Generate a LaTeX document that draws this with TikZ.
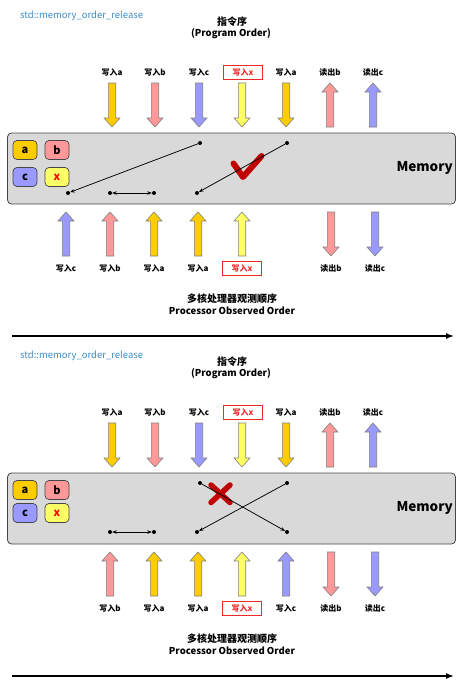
\documentclass[tikz,border=0pt]{standalone}
\usepackage{fontspec}
\setmainfont{Noto Sans CJK SC}
\usetikzlibrary{arrows.meta}
\definecolor{cA}{RGB}{255,204,0}
\definecolor{cB}{RGB}{255,153,153}
\definecolor{cC}{RGB}{153,153,255}
\definecolor{cX}{RGB}{255,255,102}
\definecolor{memfill}{RGB}{217,217,217}
\definecolor{edgegray}{RGB}{70,70,70}
\definecolor{arrgray}{RGB}{128,128,128}
\definecolor{stdblue}{RGB}{60,140,200}
\definecolor{markred}{RGB}{192,0,0}
\definecolor{boxred}{RGB}{240,40,40}
\tikzset{
  fatarrow/.style={draw=arrgray, line width=0.6pt},
  lbl/.style={font=\bfseries\fontsize{8}{8}\selectfont, inner sep=0pt},
  redlbl/.style={lbl, draw=boxred, text=boxred, minimum width=39pt, minimum height=14pt, line width=0.6pt},
  membox/.style={draw=edgegray, fill=memfill, rounded corners=4pt, line width=0.8pt, minimum width=448pt, minimum height=71pt, inner sep=0pt},
  varbox/.style={draw=edgegray, rounded corners=4pt, line width=0.7pt, minimum width=24pt, minimum height=19pt, inner sep=0pt, font=\bfseries\fontsize{11}{11}\selectfont},
  dot/.style={circle, fill=black, inner sep=0pt, minimum size=4pt},
  memarrow/.style={line width=0.75pt, -{Stealth[length=4.5pt,width=3.5pt]}},
  dblarrow/.style={line width=0.75pt, {Stealth[length=4.5pt,width=3.5pt]}-{Stealth[length=4.5pt,width=3.5pt]}},
  titletxt/.style={font=\bfseries\fontsize{10}{10}\selectfont, inner sep=0pt},
  subtxt/.style={font=\bfseries\fontsize{9.5}{10}\selectfont, inner sep=0pt},
  stdtxt/.style={font=\fontsize{9.5}{10}\selectfont, text=stdblue, inner sep=0pt, anchor=west},
  timeline/.style={line width=1.4pt, -{Latex[length=8pt,width=6pt]}},
  markstroke/.style={draw=markred, line width=6pt, line cap=round, line join=round}
}
% down arrow: colour, x, ytop (length 44)
\newcommand\fdown[3]{\draw[fatarrow, fill=#1] (#2-3.7,#3) -- (#2+3.7,#3) -- (#2+3.7,#3+35) -- (#2+8,#3+35) -- (#2,#3+44) -- (#2-8,#3+35) -- (#2-3.7,#3+35) -- cycle;}
% up arrow: colour, x, ytip (length 44)
\newcommand\fup[3]{\draw[fatarrow, fill=#1] (#2-3.7,#3+44) -- (#2+3.7,#3+44) -- (#2+3.7,#3+9) -- (#2+8,#3+9) -- (#2,#3) -- (#2-8,#3+9) -- (#2-3.7,#3+9) -- cycle;}
% common top part of a panel; #1 = suffix
\newcommand\panelcommon[1]{%
  \node[stdtxt] (std#1) at (20,16) {std::memory\_order\_release};
  \node[titletxt] (po#1) at (232,22) {指令序};
  \node[subtxt] (pos#1) at (231,34) {(Program Order)};
  \node[lbl] (t1#1) at (112,72) {写入a};
  \node[lbl] (t2#1) at (155,72) {写入b};
  \node[lbl] (t3#1) at (199,72) {写入c};
  \node[redlbl] (t4#1) at (243,72.5) {写入x};
  \node[lbl] (t5#1) at (286,72) {写入a};
  \node[lbl] (t6#1) at (330,72) {读出b};
  \node[lbl] (t7#1) at (373,72) {读出c};
  \fdown{cA}{112}{83}
  \fdown{cB}{155}{83}
  \fdown{cC}{199}{83}
  \fdown{cX}{242}{83}
  \fdown{cA}{286}{83}
  \fup{cB}{330}{83}
  \fup{cC}{373}{83}
  \node[membox] (mem#1) at (231.5,168.5) {};
  \node[font=\bfseries\fontsize{13.5}{14}\selectfont, inner sep=0pt, anchor=east] (memt#1) at (453,168) {Memory};
  \node[titletxt] (obs#1) at (232,299) {多核处理器观测顺序};
  \node[subtxt] (obss#1) at (232,311) {Processor Observed Order};
  \coordinate (tl#1) at (12,336);
  \coordinate (tr#1) at (454,336);
  \draw[timeline] (tl#1) -- (tr#1);
}
\begin{document}
\begin{tikzpicture}[x=1pt,y=-1pt]
\useasboundingbox (0,0) rectangle (464,685);
% ---------------- panel 1 ----------------
\panelcommon{A}
\node[varbox, fill=cA] (vaA) at (25,150) {a};
\node[varbox, fill=cB] (vbA) at (57,150) {b};
\node[varbox, fill=cC] (vcA) at (25,177) {c};
\node[varbox, fill=cX, text=red] (vxA) at (57,177) {x};
\draw[markstroke] (233.5,163.5) -- (243,177) -- (261.5,156);
\node[dot] (d1A) at (200,143) {};
\node[dot] (d2A) at (68,193) {};
\node[dot] (d3A) at (110,193) {};
\node[dot] (d4A) at (154,193) {};
\node[dot] (d5A) at (197,193) {};
\node[dot] (d6A) at (287,143) {};
\draw[memarrow] (d1A) -- (d2A);
\draw[memarrow] (d6A) -- (d5A);
\draw[dblarrow] (d3A) -- (d4A);
\fup{cC}{66}{212}
\fup{cB}{110}{212}
\fup{cA}{154}{212}
\fup{cA}{198}{212}
\fup{cX}{242}{212}
\fdown{cB}{331}{212}
\fdown{cC}{375}{212}
\node[lbl] (b1A) at (66,268) {写入c};
\node[lbl] (b2A) at (110,268) {写入b};
\node[lbl] (b3A) at (154,268) {写入a};
\node[lbl] (b4A) at (198,268) {写入a};
\node[redlbl] (b5A) at (242,268.5) {写入x};
\node[lbl] (b6A) at (331,268) {读出b};
\node[lbl] (b7A) at (375,268) {读出c};
% ---------------- panel 2 ----------------
\begin{scope}[shift={(0,340)}]
\panelcommon{B}
\node[varbox, fill=cA] (vaB) at (25,150) {a};
\node[varbox, fill=cB] (vbB) at (57,150) {b};
\node[varbox, fill=cC] (vcB) at (25,173) {c};
\node[varbox, fill=cX, text=red] (vxB) at (57,173) {x};
\draw[markstroke, line width=5.5pt] (211,145) -- (230,162.5);
\draw[markstroke, line width=5.5pt] (230,145) -- (211,162.5);
\node[dot] (d1B) at (200,143) {};
\node[dot] (d2B) at (287,143) {};
\node[dot] (d3B) at (110,192) {};
\node[dot] (d4B) at (154,192) {};
\node[dot] (d5B) at (197,192) {};
\node[dot] (d6B) at (287,192) {};
\draw[memarrow] (d1B) -- (d6B);
\draw[memarrow] (d2B) -- (d5B);
\draw[dblarrow] (d3B) -- (d4B);
\fup{cB}{110}{212}
\fup{cA}{154}{212}
\fup{cA}{198}{212}
\fup{cX}{242}{212}
\fup{cC}{286}{212}
\fdown{cB}{331}{212}
\fdown{cC}{375}{212}
\node[lbl] (b1B) at (110,268) {写入b};
\node[lbl] (b2B) at (154,268) {写入a};
\node[lbl] (b3B) at (198,268) {写入a};
\node[redlbl] (b4B) at (242,268.5) {写入x};
\node[lbl] (b5B) at (286,268) {写入c};
\node[lbl] (b6B) at (331,268) {读出b};
\node[lbl] (b7B) at (375,268) {读出c};
\end{scope}
\end{tikzpicture}
\end{document}
